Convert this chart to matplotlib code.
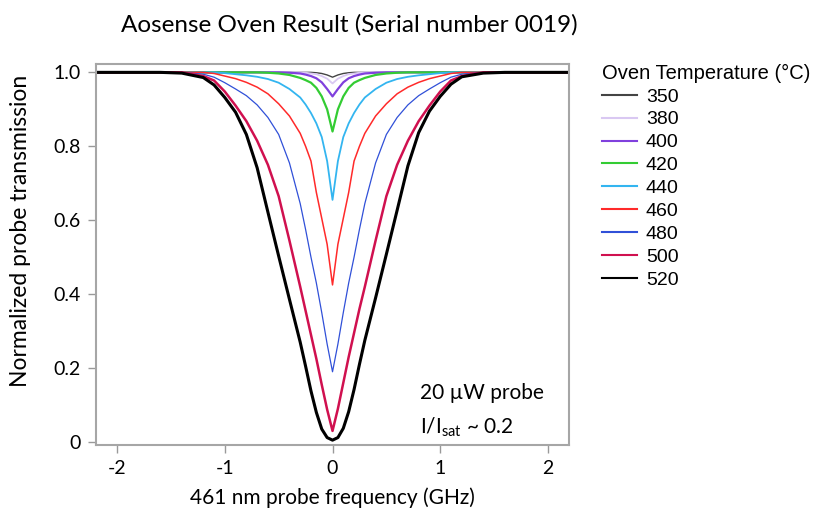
import numpy as np
import matplotlib.pyplot as plt

# frequency points (GHz)
freq = [-2.2, -1.6, -1.4, -1.2, -1.1, -1.0, -0.9, -0.8, -0.7, -0.6, -0.5, -0.4, -0.3, -0.25, -0.2, -0.15, -0.1, -0.05,
        0.0,
        0.05, 0.1, 0.15, 0.2, 0.25, 0.3, 0.4, 0.5, 0.6, 0.7, 0.8, 0.9, 1.0, 1.1, 1.2, 1.4, 1.6, 2.2]

temps = ['350', '380', '400', '420', '440', '460', '480', '500', '520']

t350 = [1.0, 1.0, 1.0, 1.0, 1.0, 1.0, 1.0, 1.0, 1.0, 1.0, 1.0, 1.0, 1.0, 1.0, 1.0, 0.999, 0.997, 0.993,
        0.987,
        0.993, 0.997, 0.999, 1.0, 1.0, 1.0, 1.0, 1.0, 1.0, 1.0, 1.0, 1.0, 1.0, 1.0, 1.0, 1.0, 1.0, 1.0]
t380 = [1.0, 1.0, 1.0, 1.0, 1.0, 1.0, 1.0, 1.0, 1.0, 1.0, 1.0, 1.0, 1.0, 0.999, 0.997, 0.995, 0.99, 0.983,
        0.97,
        0.983, 0.99, 0.995, 0.997, 0.999, 1.0, 1.0, 1.0, 1.0, 1.0, 1.0, 1.0, 1.0, 1.0, 1.0, 1.0, 1.0, 1.0]
t400 = [1.0, 1.0, 1.0, 1.0, 1.0, 1.0, 1.0, 1.0, 1.0, 1.0, 1.0, 0.999, 0.997, 0.994, 0.99, 0.984, 0.973, 0.955,
        0.935,
        0.955, 0.973, 0.984, 0.99, 0.994, 0.997, 0.999, 1.0, 1.0, 1.0, 1.0, 1.0, 1.0, 1.0, 1.0, 1.0, 1.0, 1.0]
t420 = [1.0, 1.0, 1.0, 1.0, 1.0, 1.0, 1.0, 1.0, 1.0, 0.999, 0.997, 0.993, 0.985, 0.979, 0.972, 0.958, 0.935, 0.9,
        0.84,
        0.9, 0.935, 0.958, 0.972, 0.979, 0.985, 0.993, 0.997, 0.999, 1.0, 1.0, 1.0, 1.0, 1.0, 1.0, 1.0, 1.0, 1.0]
t440 = [1.0, 1.0, 1.0, 1.0, 1.0, 0.998, 0.995, 0.992, 0.988, 0.982, 0.972, 0.955, 0.932, 0.913, 0.89, 0.862, 0.825, 0.76,
        0.655,
        0.76, 0.825, 0.862, 0.89, 0.913, 0.932, 0.955, 0.972, 0.982, 0.988, 0.992, 0.995, 0.998, 1.0, 1.0, 1.0, 1.0, 1.0]
t460 = [1.0, 1.0, 1.0, 1.0, 0.997, 0.99, 0.983, 0.973, 0.96, 0.942, 0.915, 0.882, 0.835, 0.8, 0.76, 0.675, 0.605, 0.535,
        0.425,
        0.535, 0.605, 0.675, 0.76, 0.8, 0.835, 0.882, 0.915, 0.942, 0.96, 0.973, 0.983, 0.99, 0.997, 1.0, 1.0, 1.0, 1.0]
t480 = [1.0, 1.0, 1.0, 0.995, 0.987, 0.972, 0.955, 0.937, 0.912, 0.878, 0.832, 0.755, 0.645, 0.575, 0.5, 0.43, 0.35, 0.265,
        0.19,
        0.265, 0.35, 0.43, 0.5, 0.575, 0.645, 0.755, 0.832, 0.878, 0.912, 0.937, 0.955, 0.972, 0.987, 0.995, 1.0, 1.0, 1.0]
t500 = [1.0, 1.0, 1.0, 0.99, 0.978, 0.948, 0.91, 0.868, 0.815, 0.75, 0.665, 0.545, 0.42, 0.355, 0.29, 0.225, 0.155, 0.088,
        0.03,
        0.09, 0.16, 0.23, 0.295, 0.36, 0.42, 0.545, 0.665, 0.75, 0.815, 0.868, 0.91, 0.948, 0.978, 0.99, 1.0, 1.0, 1.0]
t520 = [1.0, 1.0, 0.998, 0.986, 0.966, 0.932, 0.892, 0.832, 0.742, 0.622, 0.503, 0.386, 0.27, 0.205, 0.138, 0.08, 0.035, 0.012,
        0.005,
        0.012, 0.037, 0.082, 0.142, 0.21, 0.275, 0.39, 0.508, 0.627, 0.747, 0.837, 0.895, 0.935, 0.968, 0.988, 0.998, 1.0, 1.0]

series = [t350, t380, t400, t420, t440, t460, t480, t500, t520]
colors = ['#444444', '#d9c8f2', '#8040dd', '#33cc33', '#33b5f0', '#ff2a2a', '#3050d8', '#d0104f', '#000000']
widths = [1.0, 1.3, 1.6, 1.6, 1.3, 1.1, 0.9, 1.8, 2.2]

plt.rcParams['font.family'] = ['Lato', 'DejaVu Sans']
plt.rcParams['mathtext.fontset'] = 'custom'
plt.rcParams['mathtext.rm'] = 'Lato'

fig = plt.figure(figsize=(8.17, 5.18), dpi=100)
ax = fig.add_axes([0.117, 0.141, 0.58, 0.735])

for vals, c, w, lab in zip(series, colors, widths, temps):
    ax.plot(freq, vals, color=c, lw=w, label=lab)

ax.set_xlim(-2.2, 2.2)
ax.set_ylim(-0.008, 1.022)
ax.set_xticks([-2, -1, 0, 1, 2])
ax.set_xticklabels(['-2', '-1', '0', '1', '2'])
ax.set_yticks([0, 0.2, 0.4, 0.6, 0.8, 1.0])
ax.set_yticklabels(['0', '0.2', '0.4', '0.6', '0.8', '1.0'])
ax.tick_params(direction='out', length=6, width=1, color='#999999', labelsize=14, pad=5)
for s in ax.spines.values():
    s.set_color('#a6a6a6')
    s.set_linewidth(1.5)

ax.set_xlabel('461 nm probe frequency (GHz)', fontsize=15, labelpad=7)
ax.set_ylabel('Normalized probe transmission', fontsize=16.5)
ax.yaxis.set_label_coords(-0.137, 0.562)
fig.text(0.428, 0.952, 'Aosense Oven Result (Serial number 0019)', fontsize=17.5, ha='center', va='center')

ax.text(0.684, 0.121, '20 \u00b5W probe', transform=ax.transAxes, fontsize=15)
ax.text(0.684, 0.031, r'I/I$_{\mathrm{sat}}$ ~ 0.2', transform=ax.transAxes, fontsize=15)

leg = fig.legend(loc='upper left', bbox_to_anchor=(0.737, 0.877), frameon=False,
                 title='Oven Temperature (\u00b0C)', alignment='left',
                 prop={'family': 'Liberation Sans', 'size': 14},
                 handlelength=1.8, handletextpad=0.45, labelspacing=0.27, borderpad=0, borderaxespad=0)
leg.get_title().set_fontfamily('Liberation Sans')
leg.get_title().set_fontsize(14.5)
for h in leg.get_lines():
    h.set_linewidth(1.5)

fig.savefig('out.png', dpi=100)
